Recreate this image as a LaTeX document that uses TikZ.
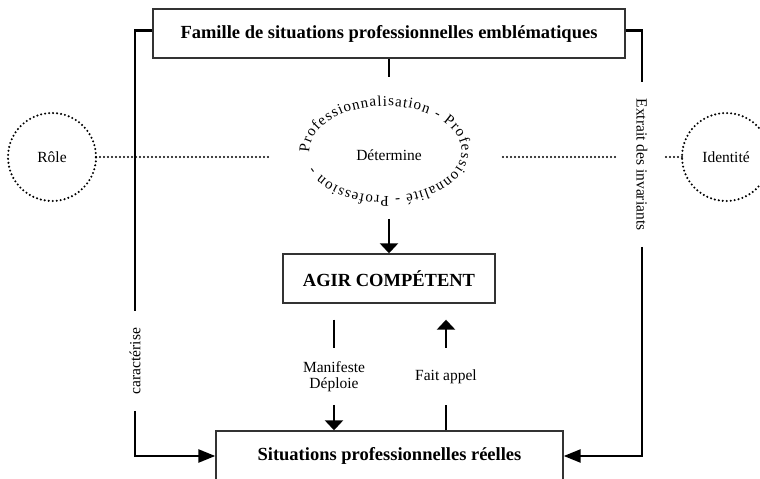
\documentclass[tikz,border=0pt]{standalone}
\usepackage{fontspec}
\setmainfont{Liberation Serif}
\usetikzlibrary{arrows.meta,positioning,decorations.text}
\newcommand\lblfont{\fontsize{15.5}{16}\selectfont}
\newcommand\boxfont{\fontsize{18.5}{20}\selectfont\bfseries}
\newcommand\ringfont{\fontsize{15}{16}\selectfont}

\begin{document}
\begin{tikzpicture}[x=1pt,y=1pt,line width=2.5pt,
  >={Triangle[length=10pt,width=18pt]},
  side/.style={-{Triangle[length=17pt,width=13pt]}},
  box/.style={draw=black!80,line width=1.4pt,minimum height=49pt,inner sep=0pt,font=\boxfont},
  lbl/.style={inner sep=0pt,outer sep=0pt,align=center,font=\lblfont},
  dotline/.style={line width=2.3pt,line cap=round,dash pattern=on 0pt off 4pt},
  pole/.style={circle,draw,dotline,minimum size=88pt,inner sep=0pt,outer sep=0pt,font=\lblfont}]
  \useasboundingbox (0,0) rectangle (760,479);

  \node[box,minimum width=472pt] (fam) at (389,445.5) {Famille de situations professionnelles emblématiques};
  \node[box,minimum width=212pt] (agir) at (389,200.5) {AGIR COMPÉTENT};
  \node[box,minimum width=347pt,minimum height=50pt] (sit) at (389.5,23) {Situations professionnelles réelles};

  \node[pole] (role) at (52,322) {Rôle};
  \node[pole] (ident) at (726,322) {Identité};

  % place kept for the ring of words
  \node[outer sep=0pt,minimum width=235pt,minimum height=142pt] (ring) at (385.5,331) {};
  \node[lbl] (det) at (389,324) {Détermine};
  \path[decorate,decoration={text along path,text align=fit to path,
      text={|\ringfont|Professionnalisation - Professionnalité - Profession -}}]
    (385.5,328) ++(182:76 and 45) arc[start angle=182,end angle=-160,x radius=76,y radius=45];

  \node[lbl,rotate=90,minimum width=100pt] (car) at (135,118) {caractérise};
  \node[lbl,rotate=-90,minimum width=165pt,minimum height=48pt] (ext) at (642,314.5) {Extrait des invariants};
  \node[lbl,minimum height=57pt] (man) at (334,102.5) {Manifeste\\Déploie};
  \node[lbl,minimum height=57pt] (fa) at (446,102.5) {Fait appel};

  \draw ([yshift=3pt]fam.west) -| (car.east);
  \draw[side] (car.west) |- (sit.west);
  \draw ([yshift=3pt]fam.east) -| (ext.west);
  \draw[side] (ext.east) |- (sit.east);

  \draw (fam.south) -- (fam.south |- ring.north);
  \draw[->] (ring.south -| agir.north) -- (agir.north);
  \draw[shorten <=16pt] (agir.south -| man.north) -- (man.north);
  \draw[->] (man.south) -- (man.south |- sit.north);
  \draw (sit.north -| fa.south) -- (fa.south);
  \draw[->,shorten >=16pt] (fa.north) -- (fa.north |- agir.south);

  \draw[dotline] (role.east) -- (role.east -| ring.west);
  \draw[dotline] (ring.east |- role.east) -- (ext.south |- role.east);
  \draw[dotline] (ext.north |- role.east) -- (ident.west);
\end{tikzpicture}
\end{document}
